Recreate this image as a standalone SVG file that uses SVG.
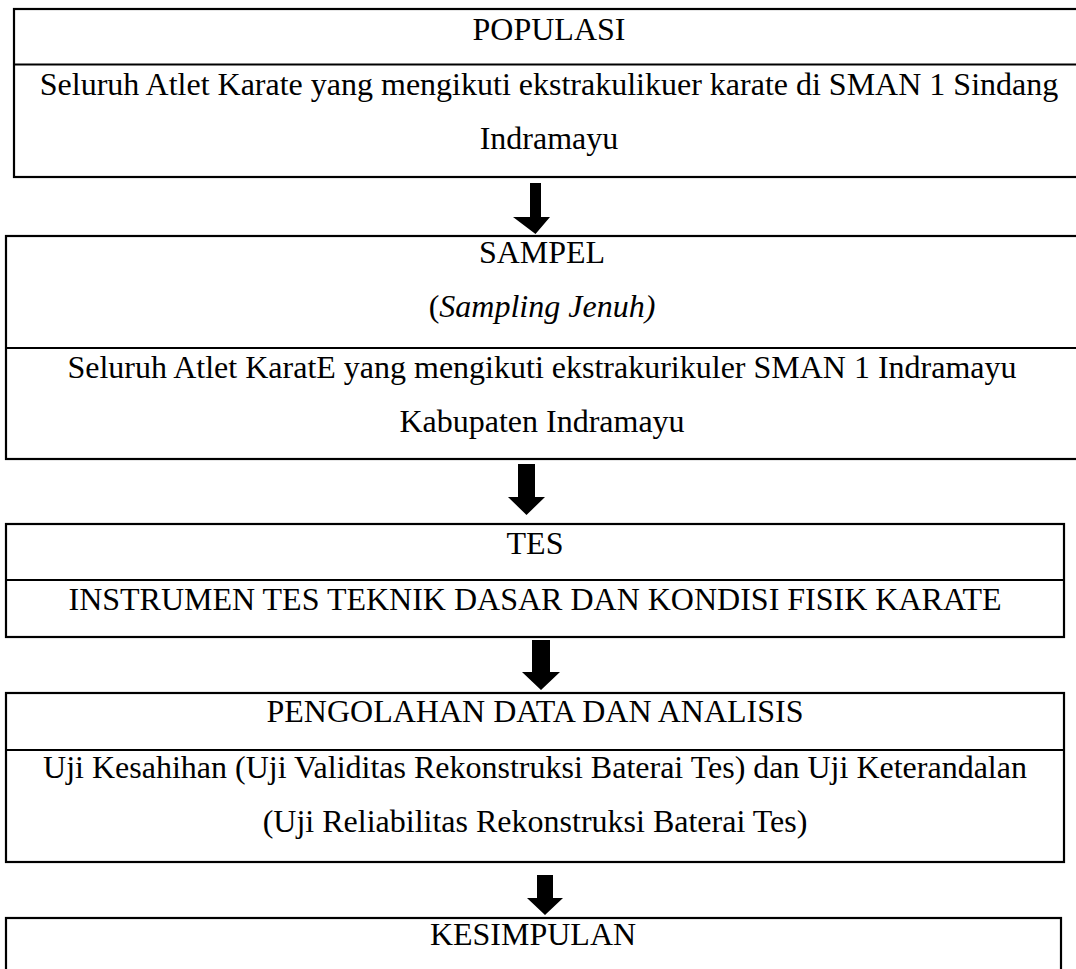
<svg xmlns="http://www.w3.org/2000/svg" width="1076" height="969" viewBox="0 0 1076 969">
<style>
.box{fill:none;stroke:#000;stroke-width:2.2}
.t{font-family:"Liberation Serif","Times New Roman",serif;font-size:32px;fill:#000;text-anchor:middle}
.i{font-style:italic}
.arr{fill:#000}
</style>
<rect x="0" y="0" width="1076" height="969" fill="#fff"/>
<g id="populasi">
<rect class="box" x="14" y="9" width="1070" height="168"/>
<line class="box" x1="14" y1="64.5" x2="1084" y2="64.5"/>
<text class="t" x="549" y="40">POPULASI</text>
<text class="t" x="549" y="95">Seluruh Atlet Karate yang mengikuti ekstrakulikuer karate di SMAN 1 Sindang</text>
<text class="t" x="549" y="149">Indramayu</text>
</g>
<g id="sampel">
<rect class="box" x="6" y="236" width="1072" height="223"/>
<line class="box" x1="6" y1="348" x2="1078" y2="348"/>
<text class="t" x="542" y="263">SAMPEL</text>
<text class="t" x="542" y="317">(<tspan class="i">Sampling Jenuh)</tspan></text>
<text class="t" x="542" y="378">Seluruh Atlet KaratE yang mengikuti ekstrakurikuler SMAN 1 Indramayu</text>
<text class="t" x="542" y="432">Kabupaten Indramayu</text>
</g>
<g id="tes">
<rect class="box" x="6" y="524" width="1058" height="113"/>
<line class="box" x1="6" y1="580" x2="1064" y2="580"/>
<text class="t" x="535" y="554">TES</text>
<text class="t" x="535" y="610">INSTRUMEN TES TEKNIK DASAR DAN KONDISI FISIK KARATE</text>
</g>
<g id="pengolahan">
<rect class="box" x="6" y="693" width="1058" height="169"/>
<line class="box" x1="6" y1="750" x2="1064" y2="750"/>
<text class="t" x="535" y="722">PENGOLAHAN DATA DAN ANALISIS</text>
<text class="t" x="535" y="778">Uji Kesahihan (Uji Validitas Rekonstruksi Baterai Tes) dan Uji Keterandalan</text>
<text class="t" x="535" y="832">(Uji Reliabilitas Rekonstruksi Baterai Tes)</text>
</g>
<g id="kesimpulan">
<rect class="box" x="6" y="918" width="1055" height="80"/>
<text class="t" x="533" y="945">KESIMPULAN</text>
</g>
<g id="connectors">
<polygon class="arr" points="530,183 541,183 541,217 550,217 535.5,234 513,217 530,217"/>
<polygon class="arr" points="518,464 535,464 535,497 545,497 526.5,515 508,497 518,497"/>
<polygon class="arr" points="532,640 550,640 550,672 560,672 541,690 522,672 532,672"/>
<polygon class="arr" points="537,875 553,875 553,898 563,898 545,915 527,898 537,898"/>
</g>
</svg>
